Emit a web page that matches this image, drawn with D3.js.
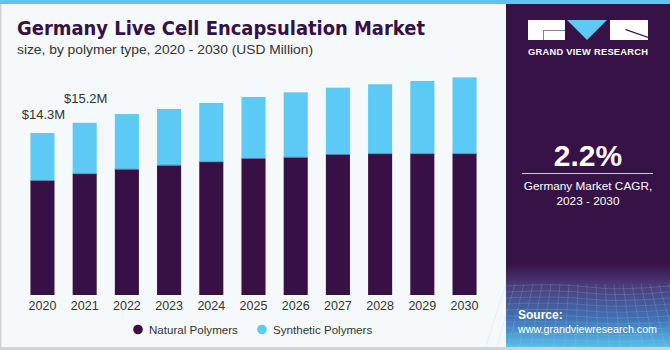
<!DOCTYPE html>
<html>
<head>
<meta charset="utf-8">
<script src="https://cdn.jsdelivr.net/npm/d3@7"></script>
<style>
  body { margin: 0; padding: 0; background: #fff; }
  svg { display: block; font-family: 'Liberation Sans', Arial, sans-serif; }
</style>
</head>
<body>
<div id="viz"></div>
<script>
const width = 670;
const height = 350;
const colorNatural = '#371045';
const colorSynthetic = '#5dcaf6';
const panelColor = '#371247';

// values (USD Million)
const years = ['2020', '2021', '2022', '2023', '2024', '2025', '2026', '2027', '2028', '2029', '2030'];
const natural = [10.1, 10.7, 11.1, 11.45, 11.75, 12.05, 12.15, 12.4, 12.47, 12.47, 12.47];
const synthetic = [4.2, 4.5, 4.87, 4.97, 5.2, 5.43, 5.74, 5.9, 6.13, 6.42, 6.74];
const totalLabels = ['$14.3M', '$15.2M'];
const seriesNames = ['Natural Polymers', 'Synthetic Polymers'];

const data = years.map((y, i) => ({year: y, natural: natural[i], synthetic: synthetic[i]}));

const svg = d3.select('#viz')
  .append('svg')
    .attr('width', width)
    .attr('height', height);

// backgrounds
svg.append('rect')
  .attr('x', 0).attr('y', 0)
  .attr('width', width).attr('height', height)
  .attr('fill', '#f5f9fc');
svg.append('rect')
  .attr('x', 0).attr('y', 0)
  .attr('width', 1.5).attr('height', height)
  .attr('fill', '#cfd3d6');
svg.append('rect')
  .attr('x', 0).attr('y', 347)
  .attr('width', width).attr('height', 3)
  .attr('fill', '#cfd3d6');

// right panel
const defs = svg.append('defs');
const grad = defs.append('linearGradient')
  .attr('id', 'panelGrad')
  .attr('x1', 0).attr('y1', 0).attr('x2', 0).attr('y2', 1);
grad.append('stop').attr('offset', '0%').attr('stop-color', panelColor);
grad.append('stop').attr('offset', '76%').attr('stop-color', panelColor);
grad.append('stop').attr('offset', '82%').attr('stop-color', '#4a3a78');
grad.append('stop').attr('offset', '92%').attr('stop-color', '#3f73b5');
grad.append('stop').attr('offset', '100%').attr('stop-color', '#58bdea');

svg.append('rect')
  .attr('x', 506).attr('y', 0)
  .attr('width', width - 506).attr('height', 347)
  .attr('fill', 'url(#panelGrad)');

// faint grid texture in the lower part of the panel
const gridG = svg.append('g')
  .attr('stroke', '#9fc6ee')
  .attr('stroke-opacity', 0.35)
  .attr('stroke-width', 0.6)
  .attr('fill', 'none');
d3.range(286, 347, 6).forEach((y, i) => {
  gridG.append('path')
    .attr('d', `M506,${y} Q${560},${y - 3 + i * 0.3} 588,${y + 1} T670,${y}`);
});
d3.range(506, 672, 9).forEach((x, i) => {
  gridG.append('path')
    .attr('d', `M${x},284 L${x + (x - 588) * 0.25},347`);
});

// top strip
svg.append('rect')
  .attr('x', 0).attr('y', 0)
  .attr('width', width).attr('height', 4)
  .attr('fill', '#5dc6ee');

// logo
const logo = svg.append('g');
logo.append('rect').attr('x', 528).attr('y', 20).attr('width', 37).attr('height', 20).attr('fill', '#fff');
logo.append('path').attr('d', 'M543,30 L565,30 L565,31 L544,31 L544,40 L543,40 Z').attr('fill', '#8a7a98');
logo.append('path').attr('d', 'M567,20 L607,20 L587,40 Z').attr('fill', colorSynthetic);
logo.append('rect').attr('x', 610).attr('y', 20).attr('width', 38).attr('height', 20).attr('fill', '#fff');
logo.append('path').attr('d', 'M625,30 L648,38 L648,36.8 L626,29 Z').attr('fill', panelColor);
logo.append('text')
  .attr('x', 528).attr('y', 54.5)
  .attr('fill', '#fff')
  .attr('font-weight', 'bold')
  .attr('font-size', 9.3)
  .attr('textLength', 120)
  .attr('lengthAdjust', 'spacing')
  .text('GRAND VIEW RESEARCH');

// CAGR
svg.append('text')
  .attr('x', 588).attr('y', 166)
  .attr('text-anchor', 'middle')
  .attr('fill', '#fff')
  .attr('font-weight', 'bold')
  .attr('font-size', 30)
  .text('2.2%');
svg.append('line')
  .attr('x1', 522).attr('x2', 653)
  .attr('y1', 173.5).attr('y2', 173.5)
  .attr('stroke', '#cfc6d8')
  .attr('stroke-width', 1);
svg.append('text')
  .attr('x', 588).attr('y', 190)
  .attr('text-anchor', 'middle')
  .attr('fill', '#fff')
  .attr('font-size', 11.8)
  .text('Germany Market CAGR,');
svg.append('text')
  .attr('x', 588).attr('y', 204.5)
  .attr('text-anchor', 'middle')
  .attr('fill', '#fff')
  .attr('font-size', 11.8)
  .text('2023 - 2030');

// source
svg.append('text')
  .attr('x', 518).attr('y', 319)
  .attr('fill', '#fff')
  .attr('font-weight', 'bold')
  .attr('font-size', 12)
  .text('Source:');
svg.append('text')
  .attr('x', 518).attr('y', 333)
  .attr('fill', '#fff')
  .attr('font-size', 11.5)
  .attr('textLength', 139)
  .attr('lengthAdjust', 'spacingAndGlyphs')
  .text('www.grandviewresearch.com');

// title
svg.append('text')
  .attr('x', 17).attr('y', 35)
  .attr('fill', '#371045')
  .attr('font-weight', 900)
  .attr('font-size', 19.5)
  .attr('font-family', "'DejaVu Sans', sans-serif")
  .attr('textLength', 408)
  .attr('lengthAdjust', 'spacingAndGlyphs')
  .text('Germany Live Cell Encapsulation Market');
svg.append('text')
  .attr('x', 17).attr('y', 54)
  .attr('fill', '#333')
  .attr('font-size', 13.4)
  .attr('textLength', 296)
  .attr('lengthAdjust', 'spacingAndGlyphs')
  .text('size, by polymer type, 2020 - 2030 (USD Million)');

// scales
const baseline = 295;
const xScale = d3.scaleBand()
  .domain(years)
  .range([22, 485])
  .paddingInner(0.43)
  .paddingOuter(0.2);
const yScale = d3.scaleLinear()
  .domain([0, 20])
  .range([baseline, baseline - 20 * 11.33]);

const stack = d3.stack().keys(['natural', 'synthetic']);
const stacked = stack(data);
const colors = {natural: colorNatural, synthetic: colorSynthetic};

svg.append('g')
  .selectAll('g')
  .data(stacked)
  .join('g')
    .attr('fill', d => colors[d.key])
  .selectAll('rect')
  .data(d => d)
  .join('rect')
    .attr('x', d => xScale(d.data.year))
    .attr('y', d => yScale(d[1]))
    .attr('width', xScale.bandwidth())
    .attr('height', d => yScale(d[0]) - yScale(d[1]));

// thin separator between segments
svg.append('g')
  .selectAll('line')
  .data(data)
  .join('line')
    .attr('x1', d => xScale(d.year))
    .attr('x2', d => xScale(d.year) + xScale.bandwidth())
    .attr('y1', d => yScale(d.natural))
    .attr('y2', d => yScale(d.natural))
    .attr('stroke', '#6b6a8c')
    .attr('stroke-width', 0.8);

// x axis
const xAxis = d3.axisBottom(xScale).tickSize(0).tickPadding(6);
const xAxisG = svg.append('g')
  .attr('transform', `translate(0, ${baseline})`)
  .call(xAxis);
xAxisG.select('.domain').remove();
xAxisG.selectAll('text')
  .attr('font-size', 12.5)
  .attr('font-family', "'Liberation Sans', Arial, sans-serif")
  .attr('fill', '#333');

// value labels on first two bars
const labelGap = [14, 20];
svg.selectAll('.total-label')
  .data(totalLabels)
  .join('text')
    .attr('class', 'total-label')
    .attr('x', (d, i) => xScale(years[i]) + xScale.bandwidth() / 2 + 1)
    .attr('y', (d, i) => yScale(natural[i] + synthetic[i]) - labelGap[i])
    .attr('text-anchor', 'middle')
    .attr('fill', '#333')
    .attr('font-size', 13)
    .text(d => d);

// legend
const legend = svg.append('g');
const legendX = [138, 262];
seriesNames.forEach((name, i) => {
  legend.append('circle')
    .attr('cx', legendX[i]).attr('cy', 329.5)
    .attr('r', 4.8)
    .attr('fill', i === 0 ? colorNatural : colorSynthetic);
  legend.append('text')
    .attr('x', legendX[i] + 11).attr('y', 333.5)
    .attr('fill', '#333')
    .attr('font-size', 11.6)
    .text(name);
});
</script>
</body>
</html>
